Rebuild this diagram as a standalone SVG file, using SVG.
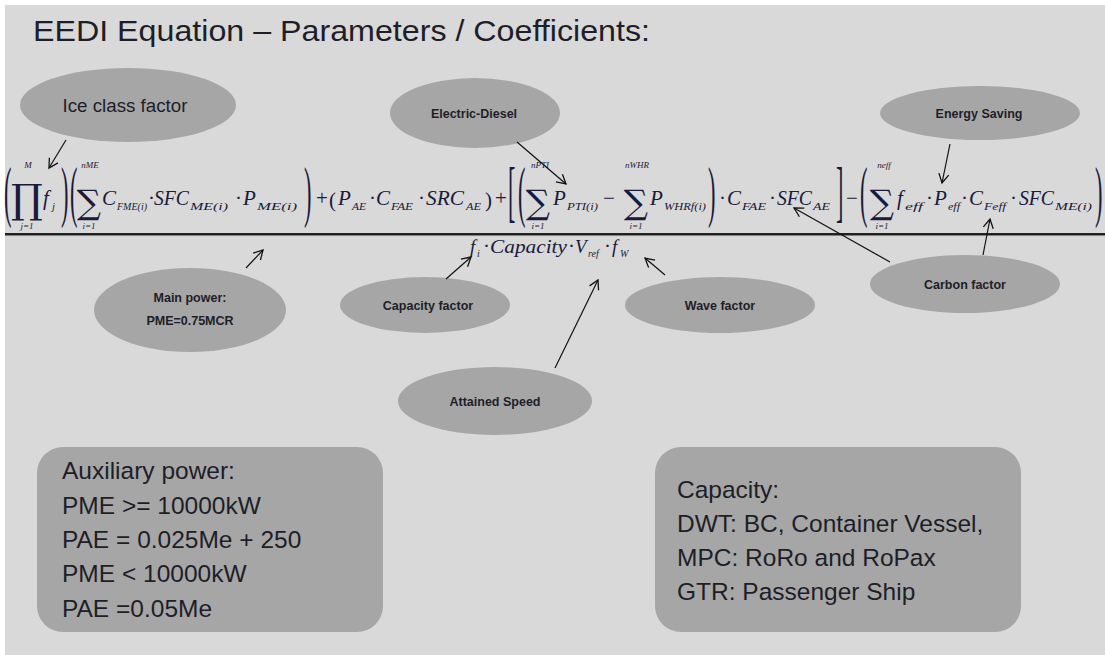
<svg xmlns="http://www.w3.org/2000/svg" width="1105" height="655" viewBox="0 0 1105 655">
<defs>
<style>
.bg{fill:#d9d9d9}
.el{fill:#a6a6a6}
.box{fill:#a6a6a6}
.lbl{font-family:"Liberation Sans",Arial,sans-serif;font-weight:bold;font-size:12.5px;fill:#1e1e28;text-anchor:middle}
.bt{font-family:"Liberation Sans",Arial,sans-serif;font-size:24.5px;fill:#1e1e28}
.eq{font-family:"Liberation Serif","Times New Roman",serif;font-style:italic;font-size:21px;fill:#1a1a3a}
.sub{font-family:"Liberation Serif","Times New Roman",serif;font-style:italic;font-size:11px;fill:#1a1a3a}
.lim{font-family:"Liberation Serif","Times New Roman",serif;font-style:italic;font-size:9px;fill:#1a1a3a;text-anchor:middle}
.op{font-family:"Liberation Serif","Times New Roman",serif;font-size:21px;fill:#1a1a3a}
.big{font-family:"Liberation Serif","Times New Roman",serif;font-size:28px;fill:#1a1a3a}
.sig{font-family:"DejaVu Serif",serif;font-size:34px;fill:#1a1a3a;text-anchor:middle}
.den{font-family:"Liberation Serif","Times New Roman",serif;font-style:italic;font-size:19px;fill:#1a1a3a}
.dsub{font-family:"Liberation Serif","Times New Roman",serif;font-style:italic;font-size:10px;fill:#1a1a3a}
.arr{stroke:#111;stroke-width:1.2;fill:none;marker-end:url(#ah)}
</style>
<marker id="ah" markerWidth="12" markerHeight="12" refX="10" refY="6" orient="auto" markerUnits="userSpaceOnUse">
<path d="M1,1 L10,6 L1,11" fill="none" stroke="#111" stroke-width="1.3"/>
</marker>
</defs>
<rect x="0" y="0" width="1105" height="655" fill="#ffffff"/>
<rect class="bg" x="5" y="5" width="1100" height="650"/>
<text x="33" y="41" font-family="Liberation Sans,Arial,sans-serif" font-size="30" fill="#1e1e28" textLength="617" lengthAdjust="spacingAndGlyphs">EEDI Equation – Parameters / Coefficients:</text>

<g id="equation">
<rect x="5" y="233" width="1100" height="2.5" fill="#222"/>
<text class="big" transform="translate(4,214) scale(0.8,2.4)">(</text>
<text x="27" y="213" font-family="DejaVu Serif,serif" font-size="40" fill="#1a1a3a" text-anchor="middle">∏</text>
<text class="lim" x="28" y="168">M</text>
<text class="lim" x="27" y="229">j=1</text>
<text class="eq" x="43" y="205">f</text><text class="sub" x="52" y="210">j</text>
<text class="big" transform="translate(61,214) scale(0.8,2.4)">)</text>
<text class="big" transform="translate(70,214) scale(0.8,2.4)">(</text>
<text class="sig" x="89" y="214">∑</text>
<text class="lim" x="90" y="168">nME</text>
<text class="lim" x="89" y="229">i=1</text>
<text class="eq" x="102" y="205">C</text><text class="sub" x="117" y="210" textLength="30" lengthAdjust="spacingAndGlyphs">FME(i)</text>
<text class="op" x="148" y="205">·</text><text class="eq" x="154" y="205" textLength="35" lengthAdjust="spacingAndGlyphs">SFC</text><text class="sub" x="190" y="210" textLength="38" lengthAdjust="spacingAndGlyphs">ME(i)</text>
<text class="op" x="235" y="205">·</text><text class="eq" x="243" y="205">P</text><text class="sub" x="257" y="210" textLength="40" lengthAdjust="spacingAndGlyphs">ME(i)</text>
<text class="big" transform="translate(304,214) scale(0.8,2.4)">)</text>
<text class="op" x="316" y="205">+</text>
<text class="op" x="329" y="207" font-size="26">(</text>
<text class="eq" x="338" y="205">P</text><text class="sub" x="352" y="210" textLength="14" lengthAdjust="spacingAndGlyphs">AE</text>
<text class="op" x="369" y="205">·</text><text class="eq" x="376" y="205">C</text><text class="sub" x="391" y="210" textLength="22" lengthAdjust="spacingAndGlyphs">FAE</text>
<text class="op" x="418" y="205">·</text><text class="eq" x="426" y="205" textLength="38" lengthAdjust="spacingAndGlyphs">SRC</text><text class="sub" x="466" y="210" textLength="15" lengthAdjust="spacingAndGlyphs">AE</text>
<text class="op" x="485" y="207" font-size="26">)</text>
<text class="op" x="495" y="205">+</text>
<text class="big" transform="translate(508,214) scale(0.8,2.4)">[</text>
<text class="big" transform="translate(518,214) scale(0.8,2.4)">(</text>
<text class="sig" x="538" y="214">∑</text>
<text class="lim" x="540" y="168">nPTI</text>
<text class="lim" x="538" y="229">i=1</text>
<text class="eq" x="553" y="205">P</text><text class="sub" x="567" y="210" textLength="31" lengthAdjust="spacingAndGlyphs">PTI(i)</text>
<text class="op" x="603" y="205">−</text>
<text class="sig" x="636" y="214">∑</text>
<text class="lim" x="637" y="168">nWHR</text>
<text class="lim" x="636" y="229">i=1</text>
<text class="eq" x="650" y="205">P</text><text class="sub" x="664" y="210" textLength="42" lengthAdjust="spacingAndGlyphs">WHRf(i)</text>
<text class="big" transform="translate(708,214) scale(0.8,2.4)">)</text>
<text class="op" x="719" y="205">·</text><text class="eq" x="727" y="205">C</text><text class="sub" x="742" y="210" textLength="24" lengthAdjust="spacingAndGlyphs">FAE</text>
<text class="op" x="769" y="205">·</text><text class="eq" x="777" y="205" textLength="35" lengthAdjust="spacingAndGlyphs">SFC</text><text class="sub" x="813" y="210" textLength="17" lengthAdjust="spacingAndGlyphs">AE</text>
<text class="big" transform="translate(836,214) scale(0.8,2.4)">]</text>
<text class="op" x="846" y="205">−</text>
<text class="big" transform="translate(860,214) scale(0.8,2.4)">(</text>
<text class="sig" x="882" y="214">∑</text>
<text class="lim" x="884" y="168">neff</text>
<text class="lim" x="882" y="229">i=1</text>
<text class="eq" x="897" y="205">f</text><text class="sub" x="905" y="210" textLength="18" lengthAdjust="spacingAndGlyphs">eff</text>
<text class="op" x="926" y="205">·</text><text class="eq" x="934" y="205">P</text><text class="sub" x="948" y="210" textLength="12" lengthAdjust="spacingAndGlyphs">eff</text>
<text class="op" x="961" y="205">·</text><text class="eq" x="969" y="205">C</text><text class="sub" x="984" y="210" textLength="22" lengthAdjust="spacingAndGlyphs">Feff</text>
<text class="op" x="1010" y="205">·</text><text class="eq" x="1019" y="205" textLength="35" lengthAdjust="spacingAndGlyphs">SFC</text><text class="sub" x="1055" y="210" textLength="37" lengthAdjust="spacingAndGlyphs">ME(i)</text>
<text class="big" transform="translate(1095,214) scale(0.8,2.4)">)</text>
<text class="den" x="470" y="253">f</text><text class="dsub" x="477" y="257">i</text>
<text class="op" x="483" y="253" font-size="19">·</text>
<text class="den" x="490" y="253" textLength="77" lengthAdjust="spacingAndGlyphs">Capacity</text>
<text class="op" x="568" y="253" font-size="19">·</text>
<text class="den" x="575" y="253">V</text><text class="dsub" x="588" y="257">ref</text>
<text class="op" x="604" y="253" font-size="19">·</text>
<text class="den" x="612" y="253">f</text><text class="dsub" x="620" y="257">W</text>
</g>

<g id="ice-class-factor"><ellipse class="el" cx="128" cy="105" rx="108" ry="37"/><text x="125" y="112" font-family="Liberation Sans,Arial,sans-serif" font-size="18" fill="#1e1e28" text-anchor="middle" textLength="125" lengthAdjust="spacingAndGlyphs">Ice class factor</text></g>
<g id="electric-diesel"><ellipse class="el" cx="475" cy="113" rx="85" ry="35"/><text class="lbl" x="474" y="118">Electric-Diesel</text></g>
<g id="energy-saving"><ellipse class="el" cx="980" cy="113" rx="100" ry="27"/><text class="lbl" x="979" y="118">Energy Saving</text></g>
<g id="main-power"><ellipse class="el" cx="190" cy="310" rx="96" ry="42"/><text class="lbl" x="190" y="302">Main power:</text><text class="lbl" x="190" y="325">PME=0.75MCR</text></g>
<g id="capacity-factor"><ellipse class="el" cx="425" cy="305" rx="85" ry="28"/><text class="lbl" x="428" y="310">Capacity factor</text></g>
<g id="attained-speed"><ellipse class="el" cx="495" cy="401" rx="97" ry="34"/><text class="lbl" x="495" y="406">Attained Speed</text></g>
<g id="wave-factor"><ellipse class="el" cx="720" cy="305" rx="95" ry="28"/><text class="lbl" x="720" y="310">Wave factor</text></g>
<g id="carbon-factor"><ellipse class="el" cx="965" cy="284" rx="95" ry="29"/><text class="lbl" x="965" y="289">Carbon factor</text></g>

<g id="auxiliary-power">
<rect class="box" x="37" y="447" width="346" height="185" rx="26"/>
<text class="bt" x="62" y="479">Auxiliary power:</text>
<text class="bt" x="62" y="514">PME &gt;= 10000kW</text>
<text class="bt" x="62" y="548">PAE = 0.025Me + 250</text>
<text class="bt" x="62" y="582">PME &lt; 10000kW</text>
<text class="bt" x="62" y="617">PAE =0.05Me</text>
</g>
<g id="capacity">
<rect class="box" x="655" y="447" width="366" height="185" rx="26"/>
<text class="bt" x="677" y="498">Capacity:</text>
<text class="bt" x="677" y="532">DWT: BC, Container Vessel,</text>
<text class="bt" x="677" y="566">MPC: RoRo and RoPax</text>
<text class="bt" x="677" y="600">GTR: Passenger Ship</text>
</g>

<g id="connectors">
<line class="arr" x1="66" y1="140" x2="49" y2="168"/>
<line class="arr" x1="517" y1="142" x2="566" y2="184"/>
<line class="arr" x1="950" y1="144" x2="942" y2="183"/>
<line class="arr" x1="246" y1="268" x2="263" y2="250"/>
<line class="arr" x1="446" y1="279" x2="471" y2="257"/>
<line class="arr" x1="555" y1="368" x2="598" y2="280"/>
<line class="arr" x1="665" y1="275" x2="645" y2="258"/>
<line class="arr" x1="890" y1="262" x2="794" y2="208"/>
<line class="arr" x1="983" y1="255" x2="990" y2="219"/>
</g>
</svg>
